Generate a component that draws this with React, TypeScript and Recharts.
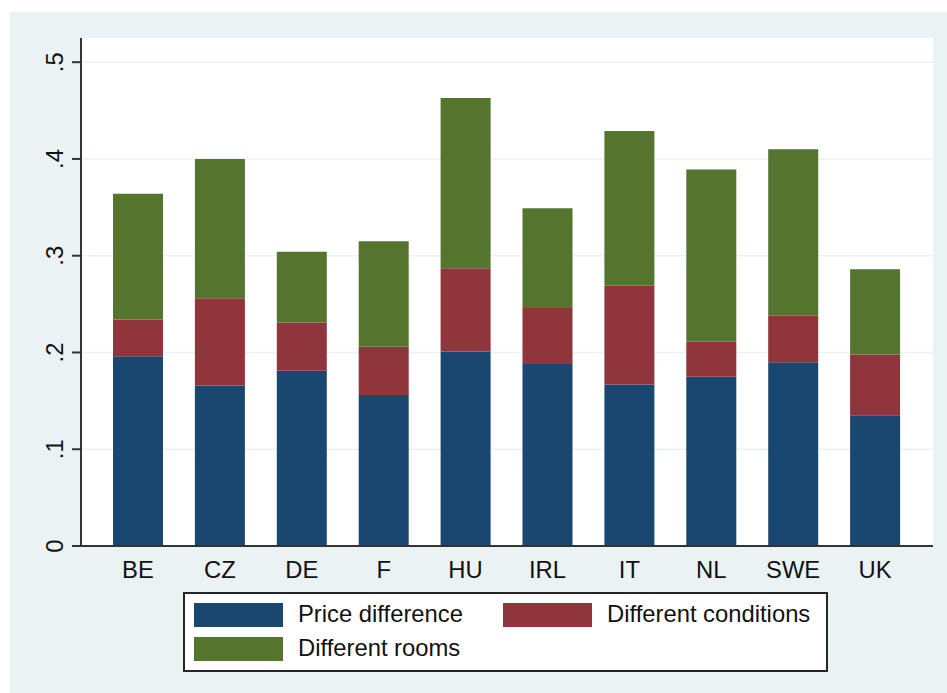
import React from 'react';
import { BarChart, Bar, XAxis, YAxis, CartesianGrid, Legend } from 'recharts';

const categories = ['BE', 'CZ', 'DE', 'F', 'HU', 'IRL', 'IT', 'NL', 'SWE', 'UK'];
const priceDifference = [0.196, 0.166, 0.181, 0.156, 0.201, 0.188, 0.167, 0.175, 0.190, 0.135];
const differentConditions = [0.038, 0.090, 0.050, 0.050, 0.086, 0.058, 0.102, 0.036, 0.048, 0.063];
const differentRooms = [0.130, 0.144, 0.073, 0.109, 0.176, 0.103, 0.160, 0.178, 0.172, 0.088];
const yTicks = [0, 0.1, 0.2, 0.3, 0.4, 0.5];
const seriesNames = ['Price difference', 'Different conditions', 'Different rooms'];

const NAVY = '#1A476F';
const MAROON = '#90353B';
const GREEN = '#55752F';
const PANEL = '#EAF2F3';
const FONT = '"Liberation Sans", Arial, sans-serif';
const FS = 23.8;

const data = categories.map((c, i) => ({
  name: c,
  price: priceDifference[i],
  conditions: differentConditions[i],
  rooms: differentRooms[i],
}));

const fmt = (v: number) => (v === 0 ? '0' : String(Number(v.toFixed(1))).replace(/^0/, ''));

const YTick = (props: any) => {
  const { x, y, payload } = props;
  return (
    <text
      x={x}
      y={y}
      transform={`rotate(-90, ${x}, ${y})`}
      textAnchor="middle"
      fontSize={FS}
      fontFamily={FONT}
      fill="#111"
    >
      {fmt(payload.value)}
    </text>
  );
};

const LegendBox = () => {
  const item = (left: number, top: number, color: string, label: string) => (
    <React.Fragment key={label}>
      <div style={{ position: 'absolute', left, top, width: 89, height: 24, background: color }} />
      <div
        style={{
          position: 'absolute',
          left: left + 104,
          top: top - 5,
          fontSize: FS,
          lineHeight: '32px',
          fontFamily: FONT,
          color: '#111',
          whiteSpace: 'nowrap',
        }}
      >
        {label}
      </div>
    </React.Fragment>
  );
  return (
    <div
      style={{
        position: 'absolute',
        left: 0,
        top: 0,
        width: 645,
        height: 80,
        boxSizing: 'border-box',
        border: '2px solid #262626',
        background: '#fff',
      }}
    >
      {item(9, 9, NAVY, seriesNames[0])}
      {item(318, 9, MAROON, seriesNames[1])}
      {item(9, 43, GREEN, seriesNames[2])}
    </div>
  );
};

export default function App() {
  return (
    <div style={{ position: 'absolute', left: 0, top: 0, width: 947, height: 693, background: '#fff' }}>
      <div style={{ position: 'absolute', left: 10, top: 12, width: 937, height: 681, background: PANEL }} />
      <div style={{ position: 'absolute', left: 0, top: 0 }}>
        <BarChart
          width={947}
          height={693}
          data={data}
          margin={{ top: 38, right: 14, left: 0, bottom: 117 }}
          barCategoryGap={0}
        >
          <CartesianGrid vertical={false} fill="#fff" stroke={PANEL} strokeWidth={1.5} horizontalValues={yTicks} />
          <XAxis
            dataKey="name"
            padding={{ left: 16, right: 17 }}
            tickLine={false}
            tickSize={0}
            tickMargin={15}
            height={30}
            axisLine={{ stroke: '#333', strokeWidth: 2 }}
            tick={{ fontSize: FS, fontFamily: FONT, fill: '#111' }}
            interval={0}
          />
          <YAxis
            width={81}
            domain={[0, 0.525]}
            ticks={yTicks}
            allowDataOverflow
            tickSize={9}
            tickMargin={9}
            axisLine={{ stroke: '#333', strokeWidth: 2 }}
            tickLine={{ stroke: '#333', strokeWidth: 2 }}
            tick={<YTick />}
          />
          <Legend
            verticalAlign="top"
            align="left"
            content={() => <LegendBox />}
            wrapperStyle={{ position: 'absolute', top: 592, left: 183, width: 645, height: 0 }}
          />
          <Bar dataKey="price" name={seriesNames[0]} stackId="a" fill={NAVY} barSize={50} isAnimationActive={false} />
          <Bar dataKey="conditions" name={seriesNames[1]} stackId="a" fill={MAROON} barSize={50} isAnimationActive={false} />
          <Bar dataKey="rooms" name={seriesNames[2]} stackId="a" fill={GREEN} barSize={50} isAnimationActive={false} />
        </BarChart>
      </div>
    </div>
  );
}
